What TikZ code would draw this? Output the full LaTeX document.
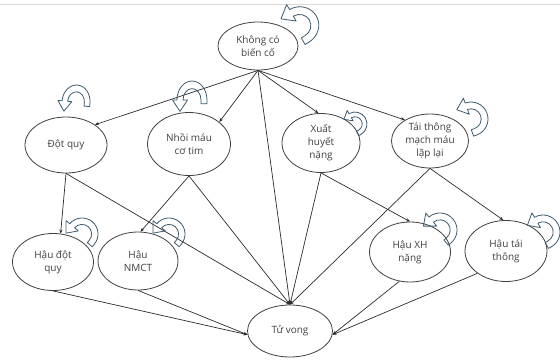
\documentclass[tikz,border=0pt]{standalone}
\usepackage{fontspec}
\setmainfont{Open Sans}
\usetikzlibrary{shapes.geometric,arrows.meta}
\definecolor{edgec}{HTML}{2B2B2B}
\definecolor{ellc}{HTML}{404040}
\definecolor{loopc}{HTML}{3E5B6E}
\definecolor{txtc}{HTML}{404040}
\tikzset{
  st/.style={ellipse,draw=ellc,line width=0.8pt,text=txtc,align=center,
    font=\fontsize{10}{13}\selectfont,inner sep=0pt},
  ed/.style={draw=edgec,line width=0.7pt,-{Stealth[length=4pt,width=3.2pt]}},
  loopst/.style={draw=loopc,line width=0.8pt,line join=round},
}
\newcommand\looparr[5]{%
  \begin{scope}[shift={(#1pt,{-#2pt})},x=1pt,y=1pt,rotate=#3,xscale=#4,yscale=#5]
    \draw[loopst] (0.6,-0.2) -- (1,-0.2) -- (1,0)
      arc[start angle=0,end angle=180,radius=1] -- (-1.3,0) -- (-0.8,-0.6)
      -- (-0.3,0) -- (-0.6,0) arc[start angle=180,end angle=0,radius=0.6] -- cycle;
  \end{scope}}
\begin{document}
\begin{tikzpicture}[x=1pt,y=-1pt]
\useasboundingbox (0,0) rectangle (560,362);
\draw[black!15,line width=0.6pt] (0,4) -- (560,4);

\node[st,minimum width=80pt,minimum height=48pt] (k) at (258,46) {Không có\\biến cố};
\node[st,minimum width=82pt,minimum height=56pt] (dq) at (66,145) {Đột quy};
\node[st,minimum width=83pt,minimum height=63pt] (nm) at (189,144) {Nhồi máu\\cơ tim};
\node[st,minimum width=78pt,minimum height=59pt] (xh) at (321,143) {Xuất\\huyết\\nặng};
\node[st,minimum width=77pt,minimum height=54pt] (tt) at (430,141) {Tái thông\\mạch máu\\lặp lại};
\node[st,minimum width=81pt,minimum height=57pt] (hdq) at (53,262) {Hậu đột\\quy};
\node[st,minimum width=80pt,minimum height=58pt] (hnm) at (138,261) {Hậu\\NMCT};
\node[st,minimum width=81pt,minimum height=60pt] (hxh) at (410,252) {Hậu XH\\nặng};
\node[st,minimum width=82pt,minimum height=61pt] (htt) at (506,251) {Hậu tái\\thông};
\node[st,minimum width=85pt,minimum height=52pt] (tv) at (290,331) {Tử vong};

\draw[ed] (k.south) -- (dq.35);
\draw[ed] (k.south) -- (nm.36);
\draw[ed] (k.south) -- (tv.north);
\draw[ed] (k.south) -- (xh.95);
\draw[ed] (k.south) -- (tt.140);

\draw[ed] (dq.south) -- (hdq.75);
\draw[ed] (dq.south) -- (tv.north);
\draw[ed] (nm.south) -- (hnm.85);
\draw[ed] (nm.south) -- (tv.north);
\draw[ed] (xh.south) -- (tv.north);
\draw[ed] (xh.south) -- (hxh.north);
\draw[ed] (tt.south) -- (tv.north);
\draw[ed] (tt.south) -- (htt.95);

\draw[ed] (hdq.south) -- (tv.185);
\draw[ed] (hnm.south) -- (tv.185);
\draw[ed] (hxh.250) -- (tv.-5);
\draw[ed] (htt.218) -- (tv.-5);

\looparr{299}{26}{-60}{19}{20}
\looparr{76}{102}{-5}{14}{17}
\looparr{192}{100}{0}{15}{19}
\looparr{355}{124}{-60}{12}{12}
\looparr{471}{119}{-70}{17}{17}
\looparr{82}{234}{-40}{16}{16}
\looparr{169}{234}{-40}{16}{16}
\looparr{440}{230}{-50}{17}{17}
\looparr{543}{232}{-60}{17}{17}
\end{tikzpicture}
\end{document}
